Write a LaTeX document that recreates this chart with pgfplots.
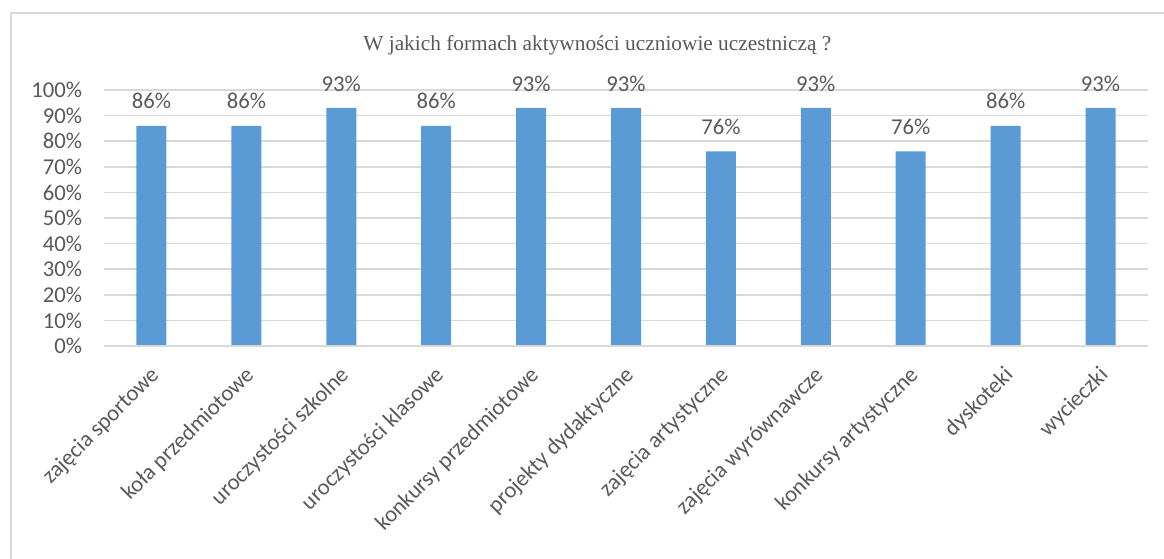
\documentclass[border=0pt]{standalone}
\usepackage{pgfplots}
\pgfplotsset{compat=1.18}
\usepackage{fontspec}
\setmainfont{Carlito}
\newfontfamily\titlefont{Liberation Serif}
\definecolor{barblue}{HTML}{5B9BD5}
\definecolor{gridgray}{HTML}{D9D9D9}
\definecolor{textgray}{HTML}{595959}

\begin{document}
\begin{tikzpicture}
  \path[use as bounding box] (0,0) rectangle (873pt,419.25pt);
  \draw[gridgray, line width=1.1pt] (8.25pt,0) -- (8.25pt,409.5pt) -- (873pt,409.5pt);
  \node[font=\titlefont\fontsize{16}{18}\selectfont, text=textgray] at (448pt,385.5pt)
    {W jakich formach aktywności uczniowie uczestniczą ?};
  \begin{axis}[
    at={(78pt,159.75pt)}, anchor=south west,
    scale only axis,
    width=783pt, height=192pt,
    ybar, bar width=22.5pt,
    xmin=-0.5, xmax=10.5,
    ymin=0, ymax=100,
    ytick={0,10,...,100},
    yticklabel={\pgfmathprintnumber{\tick}\%},
    /pgf/number format/assume math mode=true,
    xtick=data,
    xticklabels={zajęcia sportowe, koła przedmiotowe, uroczystości szkolne,
      uroczystości klasowe, konkursy przedmiotowe, projekty dydaktyczne,
      zajęcia artystyczne, zajęcia wyrównawcze, konkursy artystyczne,
      dyskoteki, wycieczki},
    xticklabel style={anchor=north east, inner sep=0pt, xshift=-2pt, yshift=-14pt, rotate=45},
    yticklabel style={xshift=-13pt},
    tick label style={font=\fontsize{17}{19}\selectfont, text=textgray},
    major tick length=0pt,
    ymajorgrids=true,
    grid style={gridgray, line width=1.1pt},
    axis line style={draw=none},
    axis x line*=bottom, axis y line*=left,
    clip=false,
    nodes near coords={\pgfmathprintnumber{\pgfplotspointmeta}\%},
    nodes near coords style={font=\fontsize{17}{19}\selectfont, text=textgray, anchor=south, yshift=9pt},
  ]
    \addplot[fill=barblue, draw=none] coordinates {
      (0,86) (1,86) (2,93) (3,86) (4,93) (5,93)
      (6,76) (7,93) (8,76) (9,86) (10,93)
    };
    \draw[gridgray, line width=1.1pt] (axis cs:-0.5,0) -- (axis cs:10.5,0);
  \end{axis}
\end{tikzpicture}
\end{document}
